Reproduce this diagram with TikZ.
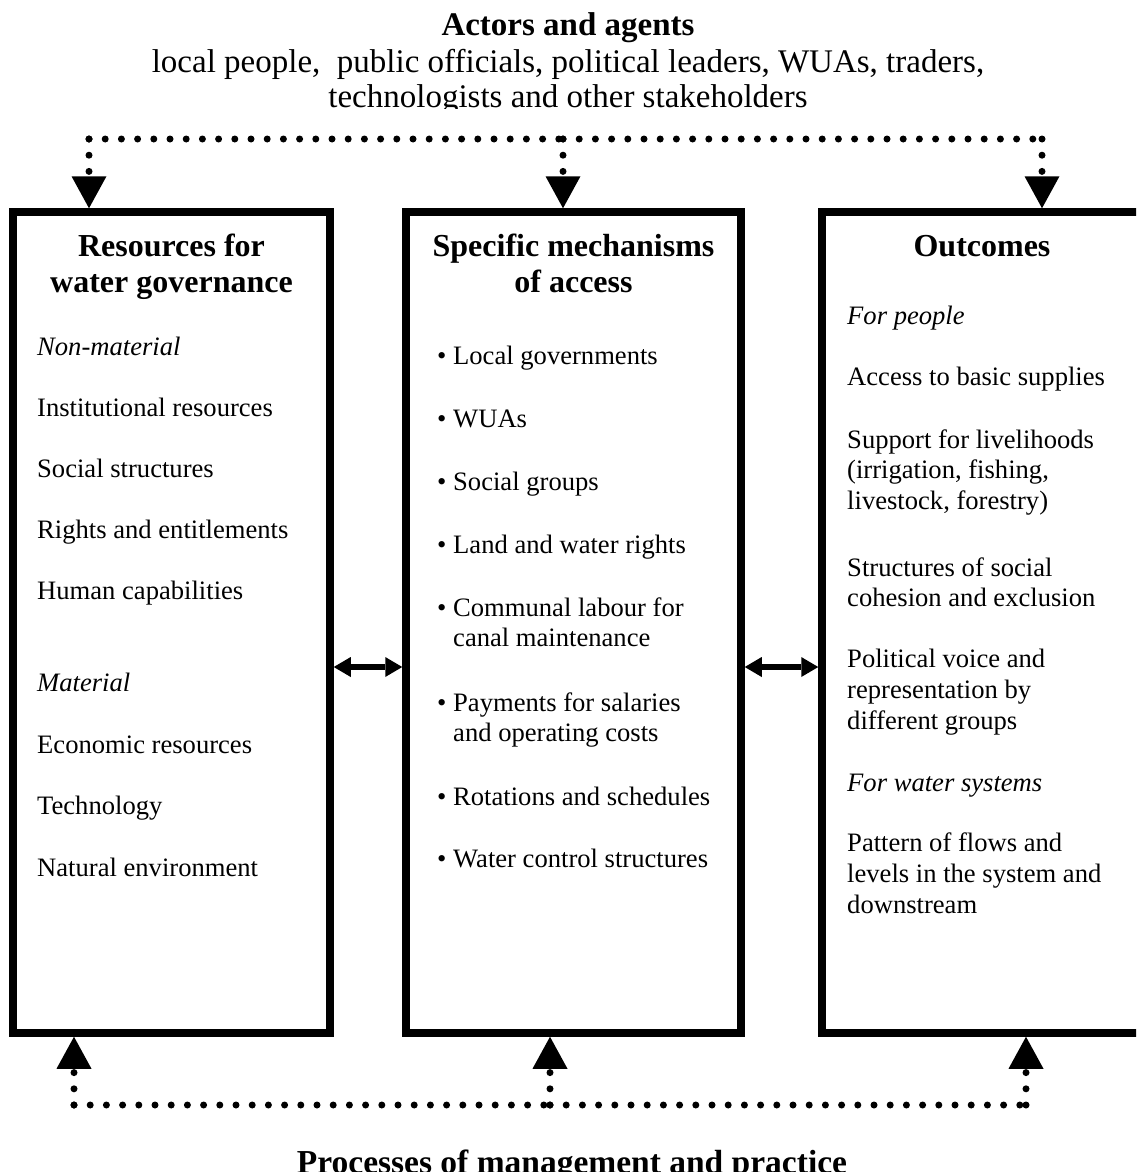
\documentclass[tikz,border=0pt]{standalone}
\usepackage{fontspec}
\setmainfont{Liberation Serif}
\usetikzlibrary{arrows.meta}
\newcommand\bodyfnt{\fontsize{26.6}{30.5}\selectfont}
\newcommand\headfnt{\fontsize{32}{36}\selectfont\bfseries}
\newcommand\topfnt{\fontsize{33}{36}\selectfont}
\newcommand\bul{\makebox[16pt][l]{\textbullet}}
\tikzset{
  box/.style={draw, line width=7.5pt, inner sep=0pt, minimum height=821pt},
  txt/.style={inner sep=0pt, anchor=base west, font=\bodyfnt},
  itxt/.style={txt, font=\bodyfnt\itshape},
  hd/.style={inner sep=0pt, anchor=base, font=\headfnt},
  tp/.style={inner sep=0pt, anchor=base, font=\topfnt},
  dotline/.style={line width=7pt, line cap=round, dash pattern=on 0pt off 16.2pt},
  tiparrow/.style={-{Triangle[length=32pt,width=35pt,line width=0pt]}},
  harrow/.style={line width=6pt, {Triangle[length=17pt,width=20pt,line width=0pt]}-{Triangle[length=17pt,width=20pt,line width=0pt]}}
}
\begin{document}
\begin{tikzpicture}[x=1pt,y=-1pt]
\clip (0,0) rectangle (1136,1172);
\fill[white] (0,0) rectangle (1136,1172);
% top text
\begin{scope}
\clip (0,0) rectangle (1136,108);
\node[tp, font=\topfnt\bfseries] (act) at (568,36) {Actors and agents};
\node[tp] (act2) at (568,72) {local people,\ \ public officials, political leaders, WUAs, traders,};
\node[tp] (act3) at (568,107) {technologists and other stakeholders};
\end{scope}
% boxes
\node[box, minimum width=317pt] (boxL) at (171.5,622.5) {};
\node[box, minimum width=335pt] (boxM) at (573.5,622.5) {};
\node[box, minimum width=320pt] (boxR) at (982,622.5) {};
% left column
\node[hd] (hL1) at (171.5,256) {Resources for};
\node[hd] (hL2) at (171.5,292) {water governance};
\node[itxt] (l1) at (37,355) {Non-material};
\node[txt] (l2) at (37,416) {Institutional resources};
\node[txt] (l3) at (37,477) {Social structures};
\node[txt] (l4) at (37,538) {Rights and entitlements};
\node[txt] (l5) at (37,599) {Human capabilities};
\node[itxt] (l6) at (37,691) {Material};
\node[txt] (l7) at (37,753) {Economic resources};
\node[txt] (l8) at (37,814) {Technology};
\node[txt] (l9) at (37,876) {Natural environment};
% middle column
\node[hd] (hM1) at (573.5,256) {Specific mechanisms};
\node[hd] (hM2) at (573.5,292) {of access};
\node[txt] (m1) at (437,364) {\bul Local governments};
\node[txt] (m2) at (437,427) {\bul WUAs};
\node[txt] (m3) at (437,490) {\bul Social groups};
\node[txt] (m4) at (437,553) {\bul Land and water rights};
\node[txt] (m5) at (437,616) {\bul Communal labour for};
\node[txt] (m5b) at (453,646) {canal maintenance};
\node[txt] (m6) at (437,711) {\bul Payments for salaries};
\node[txt] (m6b) at (453,741) {and operating costs};
\node[txt] (m7) at (437,805) {\bul Rotations and schedules};
\node[txt] (m8) at (437,867) {\bul Water control structures};
% right column
\node[hd] (hR) at (982,256) {Outcomes};
\node[itxt] (r1) at (847,324) {For people};
\node[txt] (r2) at (847,385) {Access to basic supplies};
\node[txt] (r3) at (847,448) {Support for livelihoods};
\node[txt] (r3b) at (847,478) {(irrigation, fishing,};
\node[txt] (r3c) at (847,509) {livestock, forestry)};
\node[txt] (r4) at (847,576) {Structures of social};
\node[txt] (r4b) at (847,606) {cohesion and exclusion};
\node[txt] (r5) at (847,667) {Political voice and};
\node[txt] (r5b) at (847,698) {representation by};
\node[txt] (r5c) at (847,729) {different groups};
\node[itxt] (r6) at (847,791) {For water systems};
\node[txt] (r7) at (847,851) {Pattern of flows and};
\node[txt] (r7b) at (847,882) {levels in the system and};
\node[txt] (r7c) at (847,913) {downstream};
% bottom text
\node[tp, font=\fontsize{33.5}{36}\selectfont\bfseries] (proc) at (572,1173) {Processes of management and practice};
% top dotted connector
\coordinate (t1) at (89,139);
\coordinate (t2) at (563,139);
\coordinate (t3) at (1042,139);
\draw[dotline] (t1) -- (t2);
\draw[dotline] (t2) -- (t3);
\draw[dotline, tiparrow] (t1) -- (t1 |- boxL.north);
\draw[dotline, tiparrow] (t2) -- (t2 |- boxM.north);
\draw[dotline, tiparrow] (t3) -- (t3 |- boxR.north);
% bottom dotted connector
\coordinate (b1) at (74,1105);
\coordinate (b2) at (550,1105);
\coordinate (b3) at (1026,1105);
\draw[dotline] (b1) -- (b2);
\draw[dotline] (b2) -- (b3);
\draw[dotline, tiparrow] (b1) -- (b1 |- boxL.south);
\draw[dotline, tiparrow] (b2) -- (b2 |- boxM.south);
\draw[dotline, tiparrow] (b3) -- (b3 |- boxR.south);
% horizontal arrows
\coordinate (ya) at (0,667);
\draw[harrow] (boxL.east |- ya) -- (boxM.west |- ya);
\draw[harrow] (boxM.east |- ya) -- (boxR.west |- ya);
\end{tikzpicture}
\end{document}
